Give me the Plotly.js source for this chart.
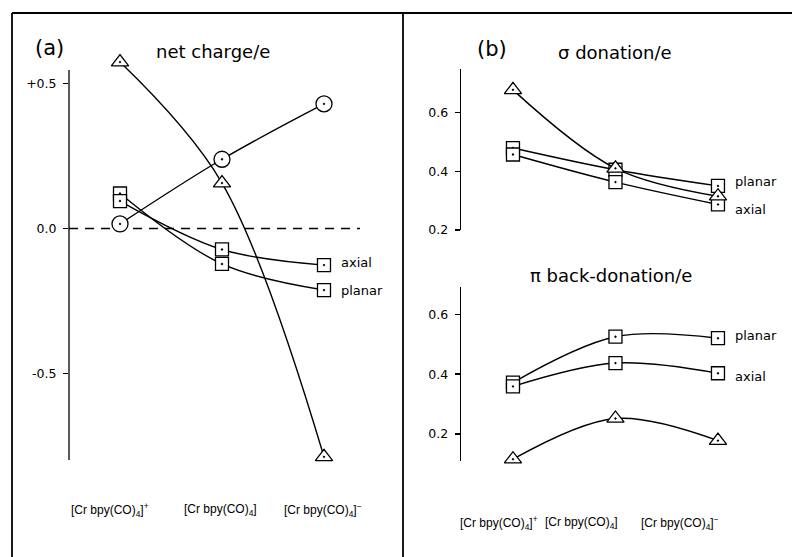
<!DOCTYPE html>
<html><head><meta charset="utf-8">
<script src="https://cdn.plot.ly/plotly-3.0.1.min.js"></script>
<style>html,body{margin:0;padding:0;background:#fff}#chart{width:792px;height:557px}</style>
</head><body><div id="chart"></div>
<script>
// categories (x positions 0,1,2)
const categories = ['[Cr bpy(CO)<sub>4</sub>]<sup>+</sup>', '[Cr bpy(CO)<sub>4</sub>]', '[Cr bpy(CO)<sub>4</sub>]<sup>\u2212</sup>'];
const catIdx = [0, 1, 2];

// (a) net charge / e
const netTriangle = [0.574, 0.157, -0.787];
const netCircle   = [0.016, 0.239, 0.430];
const netPlanar   = [0.121, -0.122, -0.212];
const netAxial    = [0.095, -0.072, -0.126];

// (b) sigma donation / e
const sigmaTriangle = [0.677, 0.410, 0.315];
const sigmaPlanar   = [0.479, 0.405, 0.350];
const sigmaAxial    = [0.457, 0.363, 0.287];

// (b) pi back-donation / e
const piTriangle = [0.116, 0.252, 0.178];
const piPlanar   = [0.372, 0.525, 0.520];
const piAxial    = [0.359, 0.437, 0.403];

// tick labels
const tickValsA = [0.5, 0.0, -0.5];
const tickTextA = ['+0.5', '0.0', '-0.5'];
const tickValsB = [0.2, 0.4, 0.6];
const tickTextB = ['0.2', '0.4', '0.6'];

const FONT = 'DejaVu Sans, sans-serif';
const W = 792, H = 557;
const px = v => v / W;
const py = v => (H - v) / H;

function mk(sym, size) {
  return {symbol: sym, size: size, color: '#fff', line: {color: '#000', width: 1.3}};
}
function tr(y, sym, size, xa, ya, name) {
  return {
    x: catIdx, y: y, xaxis: xa, yaxis: ya, name: name,
    type: 'scatter', mode: 'lines+markers', cliponaxis: false,
    line: {color: '#000', width: 1.4, shape: 'spline'},
    marker: mk(sym, size), hoverinfo: 'x+y'
  };
}

const data = [
  tr(netCircle, 'circle-dot', 16, 'x', 'y', 'circle'),
  tr(netPlanar, 'square-dot', 13, 'x', 'y', 'planar'),
  tr(netAxial, 'square-dot', 13, 'x', 'y', 'axial'),
  tr(netTriangle, 'triangle-up-dot', 15, 'x', 'y', 'triangle'),

  tr(sigmaPlanar, 'square-dot', 13, 'x2', 'y2', 'planar'),
  tr(sigmaAxial, 'square-dot', 13, 'x2', 'y2', 'axial'),
  tr(sigmaTriangle, 'triangle-up-dot', 15, 'x2', 'y2', 'triangle'),

  tr(piPlanar, 'square-dot', 13, 'x3', 'y3', 'planar'),
  tr(piAxial, 'square-dot', 13, 'x3', 'y3', 'axial'),
  tr(piTriangle, 'triangle-up-dot', 15, 'x3', 'y3', 'triangle')
];

function yax(domain, range, anchor, vals, text, showline) {
  return {
    domain: domain, range: range, anchor: anchor,
    showline: showline, linecolor: '#000', linewidth: 1.3,
    ticks: 'outside', ticklen: 5, tickwidth: 1.3, tickcolor: '#000',
    tickvals: vals, ticktext: text, showgrid: false, zeroline: false,
    tickfont: {family: FONT, size: 12.5, color: '#000'}, ticklabelstandoff: 4
  };
}
function xax(domain, range, anchor) {
  return {domain: domain, range: range, anchor: anchor, visible: false, fixedrange: true};
}

const ann = [];
function txt(x, y, text, size, xanchor) {
  ann.push({xref: 'paper', yref: 'paper', x: x, y: y, text: text, showarrow: false,
    xanchor: xanchor, yanchor: 'middle', font: {family: FONT, size: size, color: '#000'}});
}
txt(px(33), py(48), '(a)', 21, 'left');
txt(px(213), py(52), 'net charge/e', 18, 'center');
txt(px(475), py(49), '(b)', 21, 'left');
txt(px(615), py(53), '\u03c3 donation/e', 18, 'center');
txt(px(611), py(275), '\u03c0 back-donation/e', 18, 'center');

// series labels next to last points
function lab(xa, ya, yv, text, yshift) {
  ann.push({xref: xa, yref: ya, x: catIdx[2], y: yv, text: text, showarrow: false,
    xanchor: 'left', yanchor: 'middle', xshift: 15, yshift: yshift,
    font: {family: FONT, size: 13, color: '#000'}});
}
lab('x', 'y', netAxial[2], 'axial', 3);
lab('x', 'y', netPlanar[2], 'planar', 0);
lab('x2', 'y2', sigmaPlanar[2], 'planar', 4);
lab('x2', 'y2', sigmaAxial[2], 'axial', -5);
lab('x3', 'y3', piPlanar[2], 'planar', 3);
lab('x3', 'y3', piAxial[2], 'axial', -3);

// category labels
const shiftA = [-10, -2, -1];
const shiftB = [-14, -34, -38];
const CATFONT = {family: 'Liberation Sans, sans-serif', size: 12, color: '#000'};
catIdx.forEach((c, i) => {
  ann.push({xref: 'x', yref: 'paper', x: c, y: py(510), text: categories[i], showarrow: false,
    xanchor: 'center', yanchor: 'middle', xshift: shiftA[i], font: CATFONT});
  ann.push({xref: 'x3', yref: 'paper', x: c, y: py(523), text: categories[i], showarrow: false,
    xanchor: 'center', yanchor: 'middle', xshift: shiftB[i], font: CATFONT});
});

// (a) axis extent (range extended above so the top triangle is drawn)
const axisAMin = -0.798, axisAMax = 0.547, rangeAMax = 0.59;

const frame = {color: '#000', width: 1.8};
const shapes = [
  {type: 'line', xref: 'paper', yref: 'paper', x0: px(12), x1: 1, y0: py(13), y1: py(13), line: frame},
  {type: 'line', xref: 'paper', yref: 'paper', x0: px(12), x1: px(12), y0: 0, y1: py(13), line: frame},
  {type: 'line', xref: 'paper', yref: 'paper', x0: px(403), x1: px(403), y0: 0, y1: py(13), line: frame},
  {type: 'line', xref: 'x domain', yref: 'y', x0: 0, x1: 0, y0: axisAMin, y1: axisAMax,
   line: {color: '#000', width: 1.3}},
  {type: 'line', xref: 'x domain', yref: 'y', x0: 0, x1: 1, y0: 0, y1: 0, layer: 'below',
   line: {color: '#000', width: 1.5, dash: '9px,7px'}}
];

const layout = {
  width: W, height: H, margin: {l: 0, r: 0, t: 0, b: 0},
  paper_bgcolor: '#fff', plot_bgcolor: 'rgba(0,0,0,0)', showlegend: false,
  xaxis: xax([px(69), px(360)], [-0.5, 2.353], 'y'),
  yaxis: yax([py(460), py(460 - (rangeAMax - axisAMin) * 290)], [axisAMin, rangeAMax], 'x', tickValsA, tickTextA, false),
  xaxis2: xax([px(461), px(760)], [-0.507, 2.41], 'y2'),
  yaxis2: yax([py(230), py(69)], [0.2, 0.748], 'x2', tickValsB, tickTextB, true),
  xaxis3: xax([px(461), px(760)], [-0.507, 2.41], 'y3'),
  yaxis3: yax([py(460.7), py(286.7)], [0.111, 0.692], 'x3', tickValsB, tickTextB, true),
  annotations: ann, shapes: shapes
};

Plotly.newPlot('chart', data, layout, {displayModeBar: false, staticPlot: true});
</script>
</body></html>
